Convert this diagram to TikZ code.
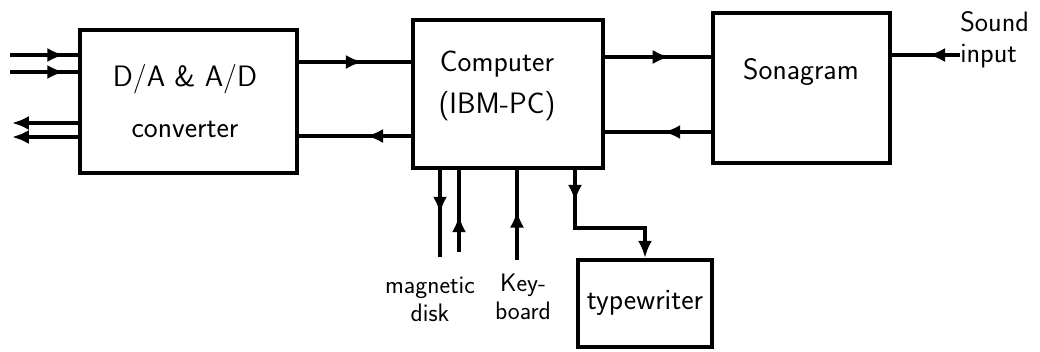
\documentclass[tikz,border=0pt]{standalone}
\usepackage{fontspec}
\usetikzlibrary{arrows.meta,calc,positioning,decorations.markings}

\def\px{0.025cm}
\tikzset{
  blok/.style={draw, line width=3.2pt, inner sep=0pt},
  txt/.style={font=\sffamily\fontsize{21}{25}\selectfont, align=center, inner sep=0pt},
  smalltxt/.style={font=\sffamily\fontsize{18}{20}\selectfont, align=center, inner sep=0pt},
  wire/.style={line width=2.6pt},
  ->-/.style={decoration={markings, mark=at position #1 with {\arrow{Latex[length=12pt,width=10pt]}}}, postaction={decorate}},
  ->-/.default=0.55
}

\begin{document}
\begin{tikzpicture}[x=\px, y=-\px]
\useasboundingbox (0,0) rectangle (1040,351);
% --- blocchi ---
\node[blok, minimum width=217*\px, minimum height=143*\px] (conv) at (188.5,101.5) {};
\node[blok, minimum width=190*\px, minimum height=148*\px] (comp) at (508,94) {};
\node[blok, minimum width=177*\px, minimum height=150*\px] (sono) at (801.5,88) {};
\node[blok, minimum width=134*\px, minimum height=87*\px] (tw) at (645,303.5) {};
\node[txt] (conv-t) at (185,101) {D/A \& A/D\\[11pt]converter};
\node[txt] (comp-t) at (497,86) {Computer\\[5pt](IBM-PC)};
\node[txt] (sono-t) at (801,72) {Sonagram};
\node[txt] (tw-t) at (645,303) {typewriter};
\node[smalltxt] (disk-t) at (430,299) {magnetic\\disk};
\node[smalltxt] (kbd-t) at (523,297) {Key-\\board};
\node[smalltxt, font=\sffamily\fontsize{20}{22}\selectfont, align=left, anchor=west] (snd-t) at (960,40) {Sound\\input};
% --- ingressi e uscite del convertitore ---
\coordinate (in1) at (10,55);
\coordinate (in2) at (10,72);
\coordinate (out1) at (12,123);
\coordinate (out2) at (12,137);
\draw[wire,->-=0.8] (in1) -- (in1 -| conv.west);
\draw[wire,->-=0.8] (in2) -- (in2 -| conv.west);
\draw[wire,-{Latex[length=12pt,width=10pt]}] (out1 -| conv.west) -- (out1);
\draw[wire,-{Latex[length=12pt,width=10pt]}] (out2 -| conv.west) -- (out2);
% --- collegamenti tra i blocchi ---
\draw[wire,->-=0.57] (conv.east |- 0,62) -- (comp.west |- 0,62);
\draw[wire,->-=0.4] (comp.west |- 0,136) -- (conv.east |- 0,136);
\draw[wire,->-=0.61] (comp.east |- 0,57) -- (sono.west |- 0,57);
\draw[wire,->-=0.45] (sono.west |- 0,132) -- (comp.east |- 0,132);
\draw[wire,->-=0.47] (snd-t.west |- 0,55) -- (sono.east |- 0,55);
% --- periferiche ---
\coordinate (dsk1) at (440,257);
\coordinate (dsk2) at (459,252);
\coordinate (kbd) at (517,260);
\draw[wire,->-=0.5] (comp.south -| dsk1) -- (dsk1);
\draw[wire,->-=0.45] (dsk2) -- (comp.south -| dsk2);
\draw[wire,->-=0.55] (kbd) -- (comp.south -| kbd);
\draw[wire,->-=0.2,-{Latex[length=12pt,width=10pt]}] (comp.south -| 575,0) |- (600,228) -| (tw.north);
\end{tikzpicture}
\end{document}
